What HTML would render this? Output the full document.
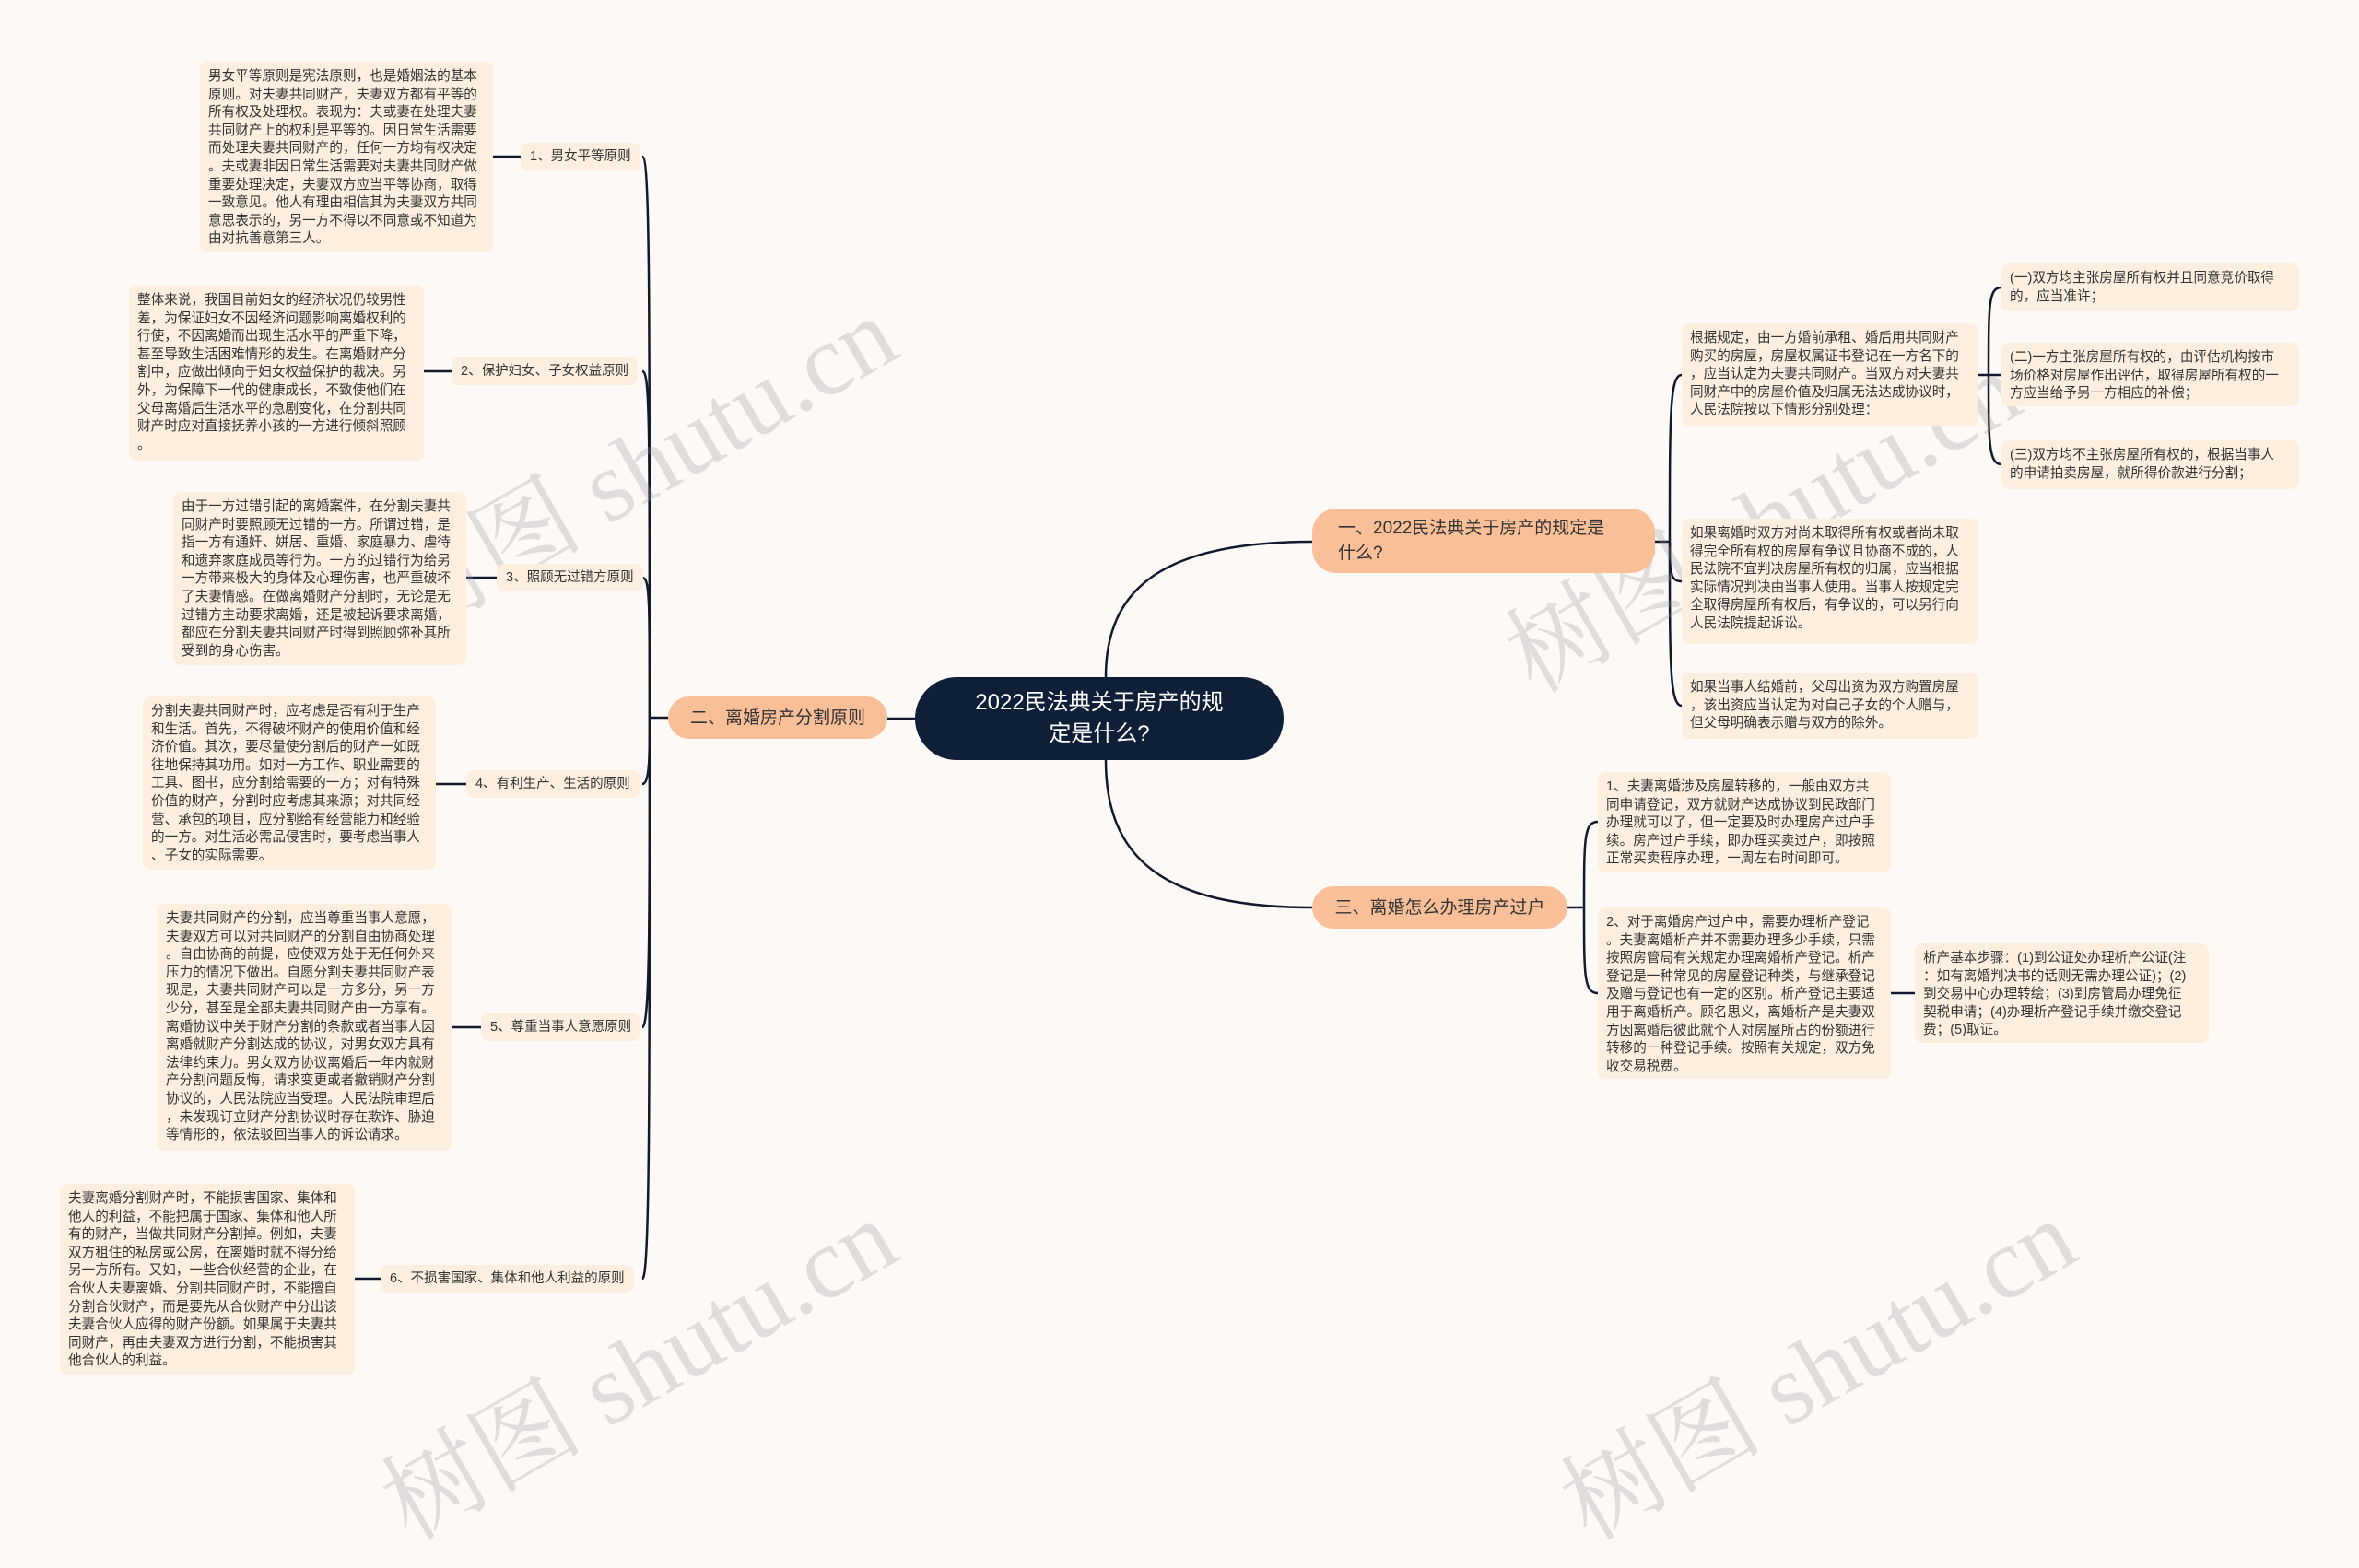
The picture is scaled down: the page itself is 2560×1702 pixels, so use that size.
<!DOCTYPE html>
<html><head><meta charset="utf-8"><style>
html,body{margin:0;padding:0;}
body{width:2560px;height:1559px;background:#fcf9f7;position:relative;overflow:hidden;font-family:"Liberation Sans","Noto Sans CJK SC",sans-serif;}
.b{position:absolute;background:#fcefe0;border-radius:8px;color:#333;font-size:14.6px;line-height:19.6px;padding:7px 9px;box-sizing:border-box;white-space:nowrap;}
.l{position:absolute;background:#fcefe0;border-radius:8px;color:#333;font-size:14.5px;height:30px;line-height:30px;padding:0 10px;box-sizing:border-box;white-space:nowrap;}
.m{position:absolute;background:#f9bf99;border-radius:26px;color:#333;font-size:19px;box-sizing:border-box;display:flex;align-items:center;padding:0 28px;line-height:27px;}
.c{position:absolute;background:#0f1f38;border-radius:45px;color:#fff;font-size:24px;line-height:34px;text-align:center;display:flex;align-items:center;justify-content:center;box-sizing:border-box;}
.w{position:absolute;color:rgba(150,150,150,0.28);font-family:"Liberation Serif","Noto Serif CJK SC",serif;font-size:110px;transform:rotate(-30deg);white-space:nowrap;}
svg{position:absolute;left:0;top:0;}
</style></head><body>
<svg width="2560" height="1559" fill="none" stroke="#111a2c" stroke-width="2.5">
<path d="M1200,735 C1200,640 1260,588 1424,588"/>
<path d="M1200,825 C1200,930 1260,985 1424,985"/>
<path d="M993,780 L963,780"/>
<path d="M725,779 L705,779"/>
<path d="M705,779 C705,300 705,170 697,170"/>
<path d="M705,779 C705,450 705,403 697,403"/>
<path d="M705,779 C705,650 705,627 697,627"/>
<path d="M705,779 C705,820 705,851 697,851"/>
<path d="M705,779 C705,1000 705,1115 697,1115"/>
<path d="M705,779 C705,1200 705,1388 697,1388"/>
<path d="M535,170 L565,170"/><path d="M460,403 L490,403"/><path d="M506,627 L539,627"/>
<path d="M473,851 L506,851"/><path d="M490,1115 L522,1115"/><path d="M385,1388 L413,1388"/>
<path d="M1796,588 L1812,588"/>
<path d="M1812,588 C1812,450 1812,407 1825,407"/>
<path d="M1812,588 C1812,620 1812,631 1825,631"/>
<path d="M1812,588 C1812,720 1812,766 1825,766"/>
<path d="M2147,407 L2158,407"/>
<path d="M2158,407 C2158,330 2158,312 2172,312"/>
<path d="M2158,407 L2172,407"/>
<path d="M2158,407 C2158,480 2158,504 2172,504"/>
<path d="M1701,985 L1719,985"/>
<path d="M1719,985 C1719,910 1719,892 1734,892"/>
<path d="M1719,985 C1719,1060 1719,1078 1734,1078"/>
<path d="M2052,1078 L2078,1078"/>
</svg>

<div class="w" style="left:380px;top:420px;">树图 shutu.cn</div>
<div class="w" style="left:1600px;top:480px;">树图 shutu.cn</div>
<div class="w" style="left:380px;top:1400px;">树图 shutu.cn</div>
<div class="w" style="left:1660px;top:1400px;">树图 shutu.cn</div>

<div class="c" style="left:993px;top:735px;width:400px;height:90px;">2022民法典关于房产的规<br>定是什么?</div>
<div class="m" style="left:1424px;top:552px;width:372px;height:70px;">一、2022民法典关于房产的规定是<br>什么?</div>
<div class="m" style="left:725px;top:756px;width:238px;height:46px;justify-content:center;padding:0;">二、离婚房产分割原则</div>
<div class="m" style="left:1424px;top:962px;width:277px;height:46px;justify-content:center;padding:0;">三、离婚怎么办理房产过户</div>

<div class="l" style="left:565px;top:155px;">1、男女平等原则</div>
<div class="l" style="left:490px;top:388px;">2、保护妇女、子女权益原则</div>
<div class="l" style="left:539px;top:612px;">3、照顾无过错方原则</div>
<div class="l" style="left:506px;top:836px;">4、有利生产、生活的原则</div>
<div class="l" style="left:522px;top:1100px;">5、尊重当事人意愿原则</div>
<div class="l" style="left:413px;top:1373px;">6、不损害国家、集体和他人利益的原则</div>

<div class="b" style="left:217px;top:67px;width:318px;height:207px;">男女平等原则是宪法原则，也是婚姻法的基本<br>原则。对夫妻共同财产，夫妻双方都有平等的<br>所有权及处理权。表现为：夫或妻在处理夫妻<br>共同财产上的权利是平等的。因日常生活需要<br>而处理夫妻共同财产的，任何一方均有权决定<br>。夫或妻非因日常生活需要对夫妻共同财产做<br>重要处理决定，夫妻双方应当平等协商，取得<br>一致意见。他人有理由相信其为夫妻双方共同<br>意思表示的，另一方不得以不同意或不知道为<br>由对抗善意第三人。</div>
<div class="b" style="left:140px;top:310px;width:320px;height:190px;">整体来说，我国目前妇女的经济状况仍较男性<br>差，为保证妇女不因经济问题影响离婚权利的<br>行使，不因离婚而出现生活水平的严重下降，<br>甚至导致生活困难情形的发生。在离婚财产分<br>割中，应做出倾向于妇女权益保护的裁决。另<br>外，为保障下一代的健康成长，不致使他们在<br>父母离婚后生活水平的急剧变化，在分割共同<br>财产时应对直接抚养小孩的一方进行倾斜照顾<br>。</div>
<div class="b" style="left:188px;top:534px;width:318px;height:188px;">由于一方过错引起的离婚案件，在分割夫妻共<br>同财产时要照顾无过错的一方。所谓过错，是<br>指一方有通奸、姘居、重婚、家庭暴力、虐待<br>和遗弃家庭成员等行为。一方的过错行为给另<br>一方带来极大的身体及心理伤害，也严重破坏<br>了夫妻情感。在做离婚财产分割时，无论是无<br>过错方主动要求离婚，还是被起诉要求离婚，<br>都应在分割夫妻共同财产时得到照顾弥补其所<br>受到的身心伤害。</div>
<div class="b" style="left:155px;top:756px;width:318px;height:188px;">分割夫妻共同财产时，应考虑是否有利于生产<br>和生活。首先，不得破坏财产的使用价值和经<br>济价值。其次，要尽量使分割后的财产一如既<br>往地保持其功用。如对一方工作、职业需要的<br>工具、图书，应分割给需要的一方；对有特殊<br>价值的财产，分割时应考虑其来源；对共同经<br>营、承包的项目，应分割给有经营能力和经验<br>的一方。对生活必需品侵害时，要考虑当事人<br>、子女的实际需要。</div>
<div class="b" style="left:171px;top:981px;width:319px;height:268px;">夫妻共同财产的分割，应当尊重当事人意愿，<br>夫妻双方可以对共同财产的分割自由协商处理<br>。自由协商的前提，应使双方处于无任何外来<br>压力的情况下做出。自愿分割夫妻共同财产表<br>现是，夫妻共同财产可以是一方多分，另一方<br>少分，甚至是全部夫妻共同财产由一方享有。<br>离婚协议中关于财产分割的条款或者当事人因<br>离婚就财产分割达成的协议，对男女双方具有<br>法律约束力。男女双方协议离婚后一年内就财<br>产分割问题反悔，请求变更或者撤销财产分割<br>协议的，人民法院应当受理。人民法院审理后<br>，未发现订立财产分割协议时存在欺诈、胁迫<br>等情形的，依法驳回当事人的诉讼请求。</div>
<div class="b" style="left:65px;top:1285px;width:320px;height:207px;">夫妻离婚分割财产时，不能损害国家、集体和<br>他人的利益，不能把属于国家、集体和他人所<br>有的财产，当做共同财产分割掉。例如，夫妻<br>双方租住的私房或公房，在离婚时就不得分给<br>另一方所有。又如，一些合伙经营的企业，在<br>合伙人夫妻离婚、分割共同财产时，不能擅自<br>分割合伙财产，而是要先从合伙财产中分出该<br>夫妻合伙人应得的财产份额。如果属于夫妻共<br>同财产，再由夫妻双方进行分割，不能损害其<br>他合伙人的利益。</div>

<div class="b" style="left:1825px;top:351px;width:322px;height:111px;">根据规定，由一方婚前承租、婚后用共同财产<br>购买的房屋，房屋权属证书登记在一方名下的<br>，应当认定为夫妻共同财产。当双方对夫妻共<br>同财产中的房屋价值及归属无法达成协议时，<br>人民法院按以下情形分别处理：</div>
<div class="b" style="left:2172px;top:286px;width:323px;height:52px;">(一)双方均主张房屋所有权并且同意竞价取得<br>的，应当准许；</div>
<div class="b" style="left:2172px;top:372px;width:323px;height:69px;">(二)一方主张房屋所有权的，由评估机构按市<br>场价格对房屋作出评估，取得房屋所有权的一<br>方应当给予另一方相应的补偿；</div>
<div class="b" style="left:2172px;top:478px;width:323px;height:53px;">(三)双方均不主张房屋所有权的，根据当事人<br>的申请拍卖房屋，就所得价款进行分割；</div>
<div class="b" style="left:1825px;top:563px;width:322px;height:136px;">如果离婚时双方对尚未取得所有权或者尚未取<br>得完全所有权的房屋有争议且协商不成的，人<br>民法院不宜判决房屋所有权的归属，应当根据<br>实际情况判决由当事人使用。当事人按规定完<br>全取得房屋所有权后，有争议的，可以另行向<br>人民法院提起诉讼。</div>
<div class="b" style="left:1825px;top:730px;width:322px;height:72px;">如果当事人结婚前，父母出资为双方购置房屋<br>，该出资应当认定为对自己子女的个人赠与，<br>但父母明确表示赠与双方的除外。</div>

<div class="b" style="left:1734px;top:838px;width:318px;height:109px;">1、夫妻离婚涉及房屋转移的，一般由双方共<br>同申请登记，双方就财产达成协议到民政部门<br>办理就可以了，但一定要及时办理房产过户手<br>续。房产过户手续，即办理买卖过户，即按照<br>正常买卖程序办理，一周左右时间即可。</div>
<div class="b" style="left:1734px;top:985px;width:318px;height:186px;">2、对于离婚房产过户中，需要办理析产登记<br>。夫妻离婚析产并不需要办理多少手续，只需<br>按照房管局有关规定办理离婚析产登记。析产<br>登记是一种常见的房屋登记种类，与继承登记<br>及赠与登记也有一定的区别。析产登记主要适<br>用于离婚析产。顾名思义，离婚析产是夫妻双<br>方因离婚后彼此就个人对房屋所占的份额进行<br>转移的一种登记手续。按照有关规定，双方免<br>收交易税费。</div>
<div class="b" style="left:2078px;top:1024px;width:319px;height:108px;">析产基本步骤：(1)到公证处办理析产公证(注<br>：如有离婚判决书的话则无需办理公证)；(2)<br>到交易中心办理转绘；(3)到房管局办理免征<br>契税申请；(4)办理析产登记手续并缴交登记<br>费；(5)取证。</div>
</body></html>
